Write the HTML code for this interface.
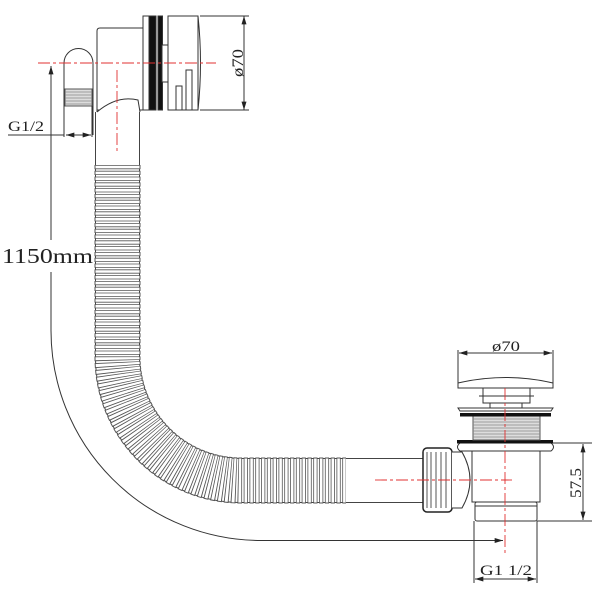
<!DOCTYPE html>
<html><head><style>html,body{margin:0;padding:0;background:#fff;}svg{display:block}</style></head>
<body>
<svg width="600" height="600" viewBox="0 0 600 600" xmlns="http://www.w3.org/2000/svg" fill="none" stroke="#333" stroke-width="1">
<defs>
<marker id="a" viewBox="0 0 10 6" refX="10" refY="3" markerWidth="9" markerHeight="5" orient="auto-start-reverse"><path d="M0 0L10 3L0 6z" fill="#222" stroke="none"/></marker>
</defs>
<!-- hose -->
<path d="M117.5 112V357A123.5 123.5 0 0 0 241 480.5H423" stroke="#444" stroke-width="45"/>
<path d="M117.5 112V357A123.5 123.5 0 0 0 241 480.5H423" stroke="#fff" stroke-width="43"/>
<path d="M117.5 165V357A123.5 123.5 0 0 0 241 480.5H346" stroke="#555" stroke-width="46" stroke-dasharray="4.2 1.6"/>
<path d="M117.5 165V357A123.5 123.5 0 0 0 241 480.5H346" stroke="#fff" stroke-width="44" stroke-dasharray="2.6 3.2" stroke-dashoffset="-0.8"/>
<!-- top overflow -->
<path d="M64 135V63A14.5 14.5 0 0 1 93 63V135" fill="#fff"/>
<rect x="65" y="89" width="27" height="17" fill="#ddd" stroke="#555"/>
<path d="M65 92H92M65 95H92M65 98H92M65 101H92M65 104H92" stroke="#888" stroke-width="0.7"/>
<path d="M97 112V31Q97 28 100 28H143V110H97" fill="#fff"/>
<path d="M97 112Q117 95 138 100L140 112" fill="#fff"/>
<rect x="143" y="16" width="6" height="94" fill="#fff"/>
<rect x="149" y="16" width="7" height="94" fill="#111"/>
<rect x="158" y="16" width="4.5" height="94" fill="#111"/>
<rect x="162" y="45" width="6" height="37" fill="#fff"/>
<path d="M168 16H198Q203 63 198 110H168Z" fill="#fff"/>
<path d="M198 16V110"/>
<path d="M176 110V86H182V110M186 110V70H192V110"/>
<!-- dims top -->
<path d="M200 16H249M200 110H249"/>
<path d="M244 16V110" marker-start="url(#a)" marker-end="url(#a)"/>
<text x="0" y="0" transform="translate(243 63) rotate(-90)" font-family="Liberation Serif,serif" font-size="16" fill="#222" stroke="none" text-anchor="middle" textLength="28" lengthAdjust="spacingAndGlyphs">ø70</text>
<path d="M64 106V137M92 106V137"/>
<path d="M8 135H64"/>
<path d="M66 135H91" marker-start="url(#a)" marker-end="url(#a)"/>
<text x="8" y="131" font-family="Liberation Serif,serif" font-size="15" fill="#222" stroke="none" textLength="36" lengthAdjust="spacingAndGlyphs">G1/2</text>
<!-- 1150 -->
<path d="M51 66V240M51 272V330A210 210 0 0 0 261 540.5H503" marker-end="url(#a)"/>
<path d="M51 66V80" marker-start="url(#a)"/>
<text x="2" y="263" font-family="Liberation Serif,serif" font-size="21" fill="#222" stroke="none" textLength="91" lengthAdjust="spacingAndGlyphs">1150mm</text>
<!-- waste -->
<rect x="423" y="448" width="29" height="64" rx="4" fill="#fff" stroke="#222" stroke-width="1.5"/>
<path d="M427 452V508M431 452V508M436 452V508M441 452V508M446 452V508" stroke="#555"/>
<path d="M452 452H462Q478 480 462 508H452" fill="#fff"/>
<rect x="472" y="448" width="68" height="54" fill="#fff"/>
<rect x="475" y="502" width="62" height="19" rx="2" fill="#fff"/>
<path d="M475 506H537"/>
<path d="M460 443H551Q556 447 551 451H460Q455 447 460 443Z" fill="#fff"/>
<rect x="457" y="440" width="96" height="3.5" fill="#111" stroke="none"/>
<rect x="473" y="416" width="67" height="24" fill="#ddd" stroke="#555"/>
<path d="M473 419H540M473 422H540M473 425H540M473 428H540M473 431H540M473 434H540M473 437H540" stroke="#888" stroke-width="0.7"/>
<rect x="460" y="413" width="91" height="3.5" fill="#111" stroke="none"/>
<path d="M458 408H553L551 411H460Z" fill="#fff"/>
<path d="M483 388V403H530V388M479 396H534M490 403V408M522 403V408" fill="#fff"/>
<path d="M458 388H553V383Q506 372 458 383Z" fill="#fff"/>
<!-- dims waste -->
<path d="M458 383V350M553 383V350"/>
<path d="M459 353H552" marker-start="url(#a)" marker-end="url(#a)"/>
<text x="506" y="351" font-family="Liberation Serif,serif" font-size="15" fill="#222" stroke="none" text-anchor="middle" textLength="28" lengthAdjust="spacingAndGlyphs">ø70</text>
<path d="M553 443H592M537 521H592"/>
<path d="M583 444V520" marker-start="url(#a)" marker-end="url(#a)"/>
<text x="0" y="0" transform="translate(581 483) rotate(-90)" font-family="Liberation Serif,serif" font-size="16" fill="#222" stroke="none" text-anchor="middle" textLength="30" lengthAdjust="spacingAndGlyphs">57.5</text>
<path d="M474 521V583M537 521V583"/>
<path d="M475 579H536" marker-start="url(#a)" marker-end="url(#a)"/>
<text x="506" y="575" font-family="Liberation Serif,serif" font-size="15" fill="#222" stroke="none" text-anchor="middle" textLength="52" lengthAdjust="spacingAndGlyphs">G1 1/2</text>
<!-- centerlines -->
<g stroke="#e03030" stroke-width="0.9" stroke-dasharray="12 3 3 3">
<path d="M38 63H216"/>
<path d="M117 70V152"/>
<path d="M375 480H512"/>
<path d="M505 388V555"/>
</g>
</svg>
</body></html>
